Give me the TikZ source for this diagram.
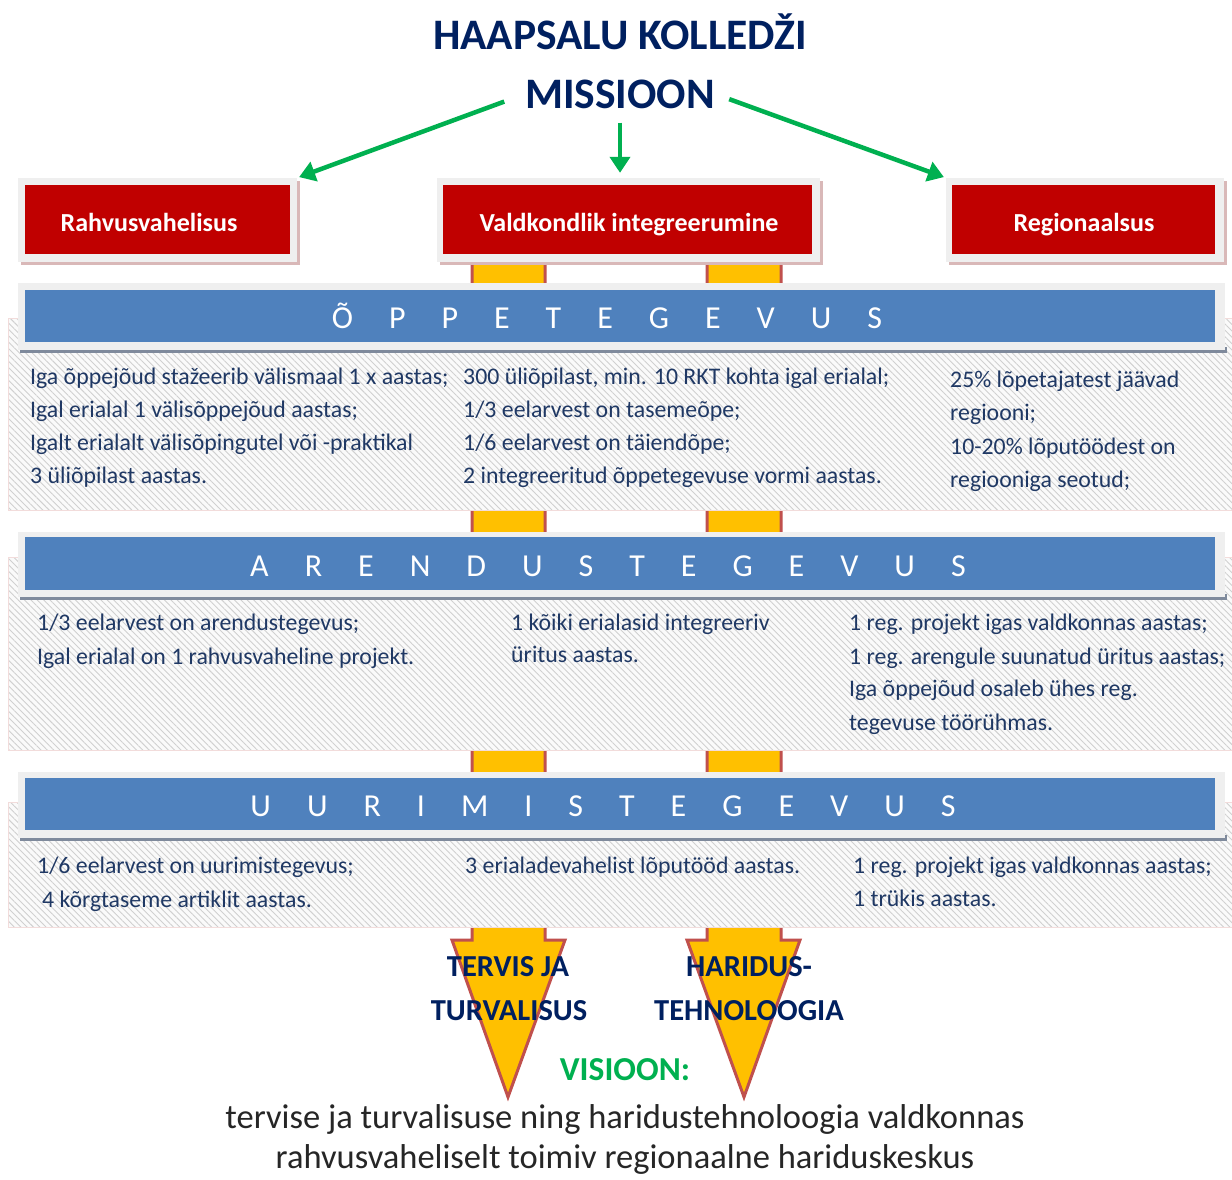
\documentclass[tikz,border=0pt]{standalone}
\usepackage{fontspec}
\setmainfont{Carlito}
\usetikzlibrary{patterns.meta,arrows.meta}
\definecolor{navy}{HTML}{002060}
\definecolor{bodyc}{HTML}{1F3864}
\definecolor{mgreen}{HTML}{00B050}
\definecolor{boxred}{HTML}{C00000}
\definecolor{hblue}{HTML}{4F81BD}
\definecolor{ayellow}{HTML}{FFC000}
\definecolor{aedge}{HTML}{C0504D}
\definecolor{framec}{HTML}{EFEFEF}
\definecolor{shadowc}{HTML}{D9B8B8}
\definecolor{darkline}{HTML}{7F8A9C}
\definecolor{pinkb}{HTML}{F2DCDB}
\definecolor{hatchc}{HTML}{D0D0D0}
\definecolor{panelbg}{HTML}{FAFAFA}
\definecolor{blackish}{HTML}{262626}
\newcommand\setfs[1]{\fontsize{#1}{#1}\selectfont}
\newcommand\lsp{\hspace{36pt}}
\tikzset{
  body/.style={anchor=mid west, inner sep=0pt, text=bodyc, font=\setfs{23.8}},
  headtxt/.style={anchor=base, inner sep=0pt, text=white, font=\setfs{32}},
  frame/.style={fill=framec, draw=none, inner sep=0pt},
  redbox/.style={fill=boxred, draw=none, inner sep=0pt},
  redtxt/.style={inner sep=0pt, anchor=mid, text=white, font=\bfseries\setfs{26}},
  bluebar/.style={fill=hblue, draw=none, inner sep=0pt},
  panel/.style={draw=pinkb, line width=1pt, preaction={fill=panelbg},
    pattern={Lines[angle=-45,distance=4.5pt,line width=0.9pt]}, pattern color=hatchc},
  garrow/.style={draw=mgreen, line width=4.5pt, -{Triangle[length=16pt,width=20pt]}},
  yarrow/.style={fill=ayellow, draw=aedge, line width=3pt, line join=miter},
  titletxt/.style={inner sep=0pt, text=navy, font=\bfseries\setfs{43.5}},
  fieldtxt/.style={inner sep=0pt, text=navy, font=\bfseries\setfs{30.5}},
  bottomtxt/.style={inner sep=0pt, text=blackish, font=\setfs{34.5}}
}
\begin{document}
\begin{tikzpicture}[x=1pt,y=-1pt]
\useasboundingbox[fill=white] (0,0) rectangle (1232,1180);

% yellow arrows running behind everything
\fill[yarrow,draw=none] (472,262) -- (472,940) -- (452,940) -- (508,1097) -- (565,940) -- (545,940) -- (545,262) -- cycle;
\draw[yarrow,fill=none] (472,262) -- (472,940) -- (452,940) -- (508,1097) -- (565,940) -- (545,940) -- (545,262);
\fill[yarrow,draw=none] (707,262) -- (707,940) -- (687,940) -- (744,1097) -- (800,940) -- (781,940) -- (781,262) -- cycle;
\draw[yarrow,fill=none] (707,262) -- (707,940) -- (687,940) -- (744,1097) -- (800,940) -- (781,940) -- (781,262);

% title
\node[titletxt] (title) at (620,32) {HAAPSALU KOLLEDŽI};
\node[titletxt] (mis) at (620,94) {MISSIOON};

% red boxes
\fill[shadowc] (21,181) rectangle (300,265);
\node[frame, minimum width=279pt, minimum height=84pt] (r1f) at (157.5,220) {};
\node[redbox, minimum width=265pt, minimum height=69pt] (r1) at (157.5,219.5) {};
\node[redtxt] (r1t) at (149,229) {Rahvusvahelisus};
\fill[shadowc] (440,181) rectangle (823,265);
\node[frame, minimum width=383pt, minimum height=84pt] (r2f) at (628.5,220) {};
\node[redbox, minimum width=369pt, minimum height=69pt] (r2) at (627.5,219.5) {};
\node[redtxt] (r2t) at (629,229) {Valdkondlik integreerumine};
\fill[shadowc] (949,181) rectangle (1227,265);
\node[frame, minimum width=278pt, minimum height=84pt] (r3f) at (1085,220) {};
\node[redbox, minimum width=263pt, minimum height=69pt] (r3) at (1083.5,219.5) {};
\node[redtxt] (r3t) at (1084,229) {Regionaalsus};

% green arrows
\draw[garrow, shorten <=22pt, shorten >=2pt] (mis.west) -- (r1f.north east);
\draw[garrow, shorten <=14pt, shorten >=5pt] (mis.south) -- (r2f.north -| mis.south);
\draw[garrow, shorten <=15pt, shorten >=2pt] (mis.east) -- (r3f.north west);

% ---------- panel 1: OPPETEGEVUS
\path[panel] (8,318) rectangle (1240,510);
\fill[darkline] (20,347) rectangle (1227,353);
\node[frame, minimum width=1207pt, minimum height=67pt] (h1f) at (621.5,316.5) {};
\node[bluebar, minimum width=1190pt, minimum height=52pt] (h1) at (620,316) {};
\node[headtxt] (h1t) at (607,328) {Õ\lsp P\lsp P\lsp E\lsp T\lsp E\lsp G\lsp E\lsp V\lsp U\lsp S};

\node[body] (a1) at (30,382) {Iga õppejõud stažeerib välismaal 1 x aastas;};
\node[body] (a2) at (30,415) {Igal erialal 1 välisõppejõud aastas;};
\node[body] (a3) at (30,448) {Igalt erialalt välisõpingutel või -praktikal};
\node[body] (a4) at (30,481) {3 üliõpilast aastas.};
\node[body] (b1) at (463,382) {300 üliõpilast, min. 10 RKT kohta igal erialal;};
\node[body] (b2) at (463,415) {1/3 eelarvest on tasemeõpe;};
\node[body] (b3) at (463,448) {1/6 eelarvest on täiendõpe;};
\node[body] (b4) at (463,481) {2 integreeritud õppetegevuse vormi aastas.};
\node[body] (c1) at (950,385) {25\% lõpetajatest jäävad};
\node[body] (c2) at (950,418) {regiooni;};
\node[body] (c3) at (950,452) {10-20\% lõputöödest on};
\node[body] (c4) at (950,485) {regiooniga seotud;};

% ---------- panel 2: ARENDUSTEGEVUS
\path[panel] (8,557) rectangle (1240,750);
\fill[darkline] (20,594) rectangle (1227,600);
\node[frame, minimum width=1207pt, minimum height=65pt] (h2f) at (621.5,564.5) {};
\node[bluebar, minimum width=1190pt, minimum height=53pt] (h2) at (620,563.5) {};
\node[headtxt] (h2t) at (608,576) {A\lsp R\lsp E\lsp N\lsp D\lsp U\lsp S\lsp T\lsp E\lsp G\lsp E\lsp V\lsp U\lsp S};

\node[body] (d1) at (37,628) {1/3 eelarvest on arendustegevus;};
\node[body] (d2) at (37,662) {Igal erialal on 1 rahvusvaheline projekt.};
\node[body] (e1) at (511,628) {1 kõiki erialasid integreeriv};
\node[body] (e2) at (511,660) {üritus aastas.};
\node[body] (f1) at (849,628) {1 reg. projekt igas valdkonnas aastas;};
\node[body] (f2) at (849,662) {1 reg. arengule suunatud üritus aastas;};
\node[body] (f3) at (849,694) {Iga õppejõud osaleb ühes reg.};
\node[body] (f4) at (849,728) {tegevuse töörühmas.};

% ---------- panel 3: UURIMISTEGEVUS
\path[panel] (8,802) rectangle (1240,927);
\fill[darkline] (20,835) rectangle (1227,841);
\node[frame, minimum width=1207pt, minimum height=66pt] (h3f) at (621.5,805) {};
\node[bluebar, minimum width=1190pt, minimum height=52pt] (h3) at (620,804) {};
\node[headtxt] (h3t) at (603,816) {U\lsp U\lsp R\lsp I\lsp M\lsp I\lsp S\lsp T\lsp E\lsp G\lsp E\lsp V\lsp U\lsp S};

\node[body] (g1) at (37,871) {1/6 eelarvest on uurimistegevus;};
\node[body] (g2) at (42,905) {4 kõrgtaseme artiklit aastas.};
\node[body] (k1) at (465,871) {3 erialadevahelist lõputööd aastas.};
\node[body] (m1) at (853,871) {1 reg. projekt igas valdkonnas aastas;};
\node[body] (m2) at (853,904) {1 trükis aastas.};

% field labels
\node[fieldtxt] (tv1) at (508,967) {TERVIS JA};
\node[fieldtxt] (tv2) at (509,1011) {TURVALISUS};
\node[fieldtxt] (hr1) at (749,967) {HARIDUS-};
\node[fieldtxt] (hr2) at (749,1011) {TEHNOLOOGIA};

% vision
\node[inner sep=0pt, text=mgreen, font=\bfseries\setfs{33.5}] (vis) at (625,1070) {VISIOON:};
\node[bottomtxt, anchor=mid] (v1) at (625,1126) {tervise ja turvalisuse ning haridustehnoloogia valdkonnas};
\node[bottomtxt, anchor=mid] (v2) at (625,1166) {rahvusvaheliselt toimiv regionaalne hariduskeskus};
\end{tikzpicture}
\end{document}
